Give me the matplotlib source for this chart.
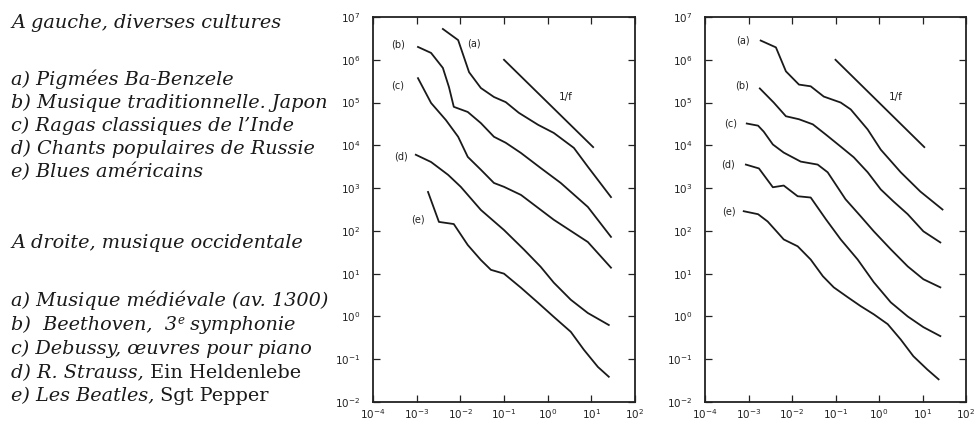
import numpy as np
import matplotlib.pyplot as plt

# Spectres : log10(f) et log10(S(f))
# A gauche, diverses cultures
g_a_logf = [-2.40, -2.05, -1.80, -1.53, -1.23, -0.96, -0.66, -0.22, 0.14, 0.60, 0.92, 1.45]
g_a_logs = [6.72, 6.46, 5.71, 5.34, 5.13, 5.01, 4.76, 4.48, 4.29, 3.94, 3.50, 2.79]
g_b_logf = [-2.97, -2.67, -2.40, -2.26, -2.15, -1.83, -1.53, -1.23, -0.96, -0.61, -0.16, 0.30, 0.92, 1.45]
g_b_logs = [6.30, 6.16, 5.81, 5.36, 4.90, 4.78, 4.52, 4.20, 4.06, 3.82, 3.47, 3.12, 2.56, 1.86]
g_c_logf = [-2.97, -2.67, -2.33, -2.05, -1.83, -1.53, -1.23, -1.00, -0.61, 0.14, 0.92, 1.45]
g_c_logs = [5.57, 4.99, 4.59, 4.20, 3.73, 3.43, 3.12, 3.03, 2.84, 2.26, 1.74, 1.14]
g_d_logf = [-3.02, -2.67, -2.28, -1.99, -1.53, -1.00, -0.54, -0.16, 0.14, 0.53, 0.92, 1.40]
g_d_logs = [3.78, 3.61, 3.31, 3.03, 2.49, 2.02, 1.56, 1.16, 0.79, 0.39, 0.08, -0.20]
g_e_logf = [-2.74, -2.49, -2.15, -1.83, -1.53, -1.30, -1.00, -0.61, -0.22, 0.14, 0.53, 0.83, 1.15, 1.40]
g_e_logs = [2.91, 2.21, 2.16, 1.67, 1.32, 1.09, 1.00, 0.67, 0.32, -0.01, -0.36, -0.78, -1.18, -1.41]

# A droite, musique occidentale
d_a_logf = [-2.72, -2.37, -2.14, -1.84, -1.57, -1.27, -0.88, -0.65, -0.26, 0.04, 0.50, 0.95, 1.46]
d_a_logs = [6.45, 6.29, 5.73, 5.42, 5.38, 5.14, 5.00, 4.84, 4.37, 3.90, 3.37, 2.92, 2.50]
d_b_logf = [-2.74, -2.42, -2.14, -1.84, -1.52, -1.22, -0.88, -0.58, -0.26, 0.04, 0.33, 0.66, 1.02, 1.41]
d_b_logs = [5.33, 5.00, 4.68, 4.61, 4.49, 4.25, 3.97, 3.72, 3.37, 2.97, 2.69, 2.39, 1.99, 1.73]
d_c_logf = [-3.04, -2.78, -2.65, -2.44, -2.19, -1.80, -1.41, -1.18, -0.77, -0.42, -0.12, 0.27, 0.66, 1.02, 1.41]
d_c_logs = [4.51, 4.46, 4.32, 4.02, 3.83, 3.62, 3.55, 3.37, 2.74, 2.34, 1.99, 1.57, 1.17, 0.87, 0.68]
d_d_logf = [-3.06, -2.76, -2.44, -2.19, -1.87, -1.57, -1.22, -0.88, -0.49, -0.12, 0.27, 0.66, 1.02, 1.41]
d_d_logs = [3.55, 3.46, 3.02, 3.06, 2.81, 2.78, 2.27, 1.80, 1.33, 0.80, 0.33, 0.00, -0.25, -0.46]
d_e_logf = [-3.11, -2.78, -2.56, -2.33, -2.19, -1.87, -1.57, -1.29, -1.04, -0.72, -0.42, -0.12, 0.20, 0.50, 0.79, 1.11, 1.37]
d_e_logs = [2.46, 2.39, 2.22, 1.96, 1.80, 1.64, 1.33, 0.94, 0.68, 0.45, 0.24, 0.05, -0.18, -0.54, -0.93, -1.24, -1.47]

# droite de reference 1/f
ref_f = [0.1, 11.0]
ref_k = 1e5

noms = ['(a)', '(b)', '(c)', '(d)', '(e)']
g_lab_logf = [-1.69, -3.43, -3.43, -3.36, -2.97]
g_lab_logs = [6.37, 6.35, 5.39, 3.75, 2.26]
d_lab_logf = [-3.12, -3.15, -3.40, -3.47, -3.45]
d_lab_logs = [6.45, 5.40, 4.51, 3.55, 2.46]
g_ref_lab = (0.42, 5.13)
d_ref_lab = (0.38, 5.12)

W, H = 976, 426
fig = plt.figure(figsize=(W / 100, H / 100), dpi=100)
fig.patch.set_facecolor('white')


def panneau(rect, courbes, lab_f, lab_s, ref_lab):
    ax = fig.add_axes(rect)
    for lf, ls in courbes:
        ax.plot(10 ** np.array(lf), 10 ** np.array(ls), color='#1a1a1a', lw=1.3)
    rf = np.array(ref_f)
    ax.plot(rf, ref_k / rf, color='#1a1a1a', lw=1.3)
    for n, x, y in zip(noms, lab_f, lab_s):
        ax.text(10 ** x, 10 ** y, n, fontsize=7, ha='center', va='center', color='#222')
    ax.text(10 ** ref_lab[0], 10 ** ref_lab[1], '1/f', fontsize=7.5, ha='center', va='center', color='#222')
    ax.set_xscale('log')
    ax.set_yscale('log')
    ax.set_xlim(1e-4, 1e2)
    ax.set_ylim(1e-2, 1e7)
    ax.set_xticks([10.0 ** k for k in range(-4, 3)])
    ax.set_yticks([10.0 ** k for k in range(-2, 8)])
    ax.minorticks_off()
    ax.tick_params(direction='in', length=5, width=0.9, top=True, right=True,
                   labelsize=7.5, colors='#222')
    ax.tick_params(axis='y', pad=9)
    ax.tick_params(axis='x', pad=4)
    for s in ax.spines.values():
        s.set_linewidth(1.3)
        s.set_color('#222')
    return ax


panneau([373 / W, 1 - 402 / H, 262 / W, 385 / H],
        [(g_a_logf, g_a_logs), (g_b_logf, g_b_logs), (g_c_logf, g_c_logs),
         (g_d_logf, g_d_logs), (g_e_logf, g_e_logs)],
        g_lab_logf, g_lab_logs, g_ref_lab)
panneau([705 / W, 1 - 402 / H, 261 / W, 385 / H],
        [(d_a_logf, d_a_logs), (d_b_logf, d_b_logs), (d_c_logf, d_c_logs),
         (d_d_logf, d_d_logs), (d_e_logf, d_e_logs)],
        d_lab_logf, d_lab_logs, d_ref_lab)

# texte de gauche, en romain ou italique selon les morceaux
rend = fig.canvas.get_renderer()
TAILLE = 13.9


def ligne(x, y, morceaux):
    for txt, style, taille, dy in morceaux:
        t = fig.text(x / W, 1 - (y - dy) / H, txt, fontsize=taille, fontstyle=style,
                     family='DejaVu Serif', va='baseline', ha='left', color='#1a1a1a')
        x += t.get_window_extent(rend).width


I, R = 'italic', 'normal'
ligne(11, 28, [('A gauche, diverses cultures', I, TAILLE, 0)])
ligne(11, 85, [('a) Pigmées Ba-Benzele', I, TAILLE, 0)])
ligne(11, 108, [('b) Musique traditionnelle. Japon', I, TAILLE, 0)])
ligne(11, 131, [('c) Ragas classiques de l\u2019Inde', I, TAILLE, 0)])
ligne(11, 154, [('d) Chants populaires de Russie', I, TAILLE, 0)])
ligne(11, 177, [('e) Blues américains', I, TAILLE, 0)])
ligne(11, 248, [('A droite, musique occidentale', I, TAILLE, 0)])
ligne(11, 306, [('a) Musique médiévale (av. 1300)', I, TAILLE, 0)])
ligne(11, 330, [('b)  Beethoven,  3', I, TAILLE, 0), ('e', I, 8.5, 6), (' symphonie', I, TAILLE, 0)])
ligne(11, 354, [('c) Debussy, œuvres pour piano', I, TAILLE, 0)])
ligne(11, 378, [('d) R. Strauss,', I, TAILLE, 0), (' Ein Heldenlebe', R, TAILLE, 0)])
ligne(11, 401, [('e) Les Beatles,', I, TAILLE, 0), (' Sgt Pepper', R, TAILLE, 0)])

fig.savefig('out.png', dpi=100)
